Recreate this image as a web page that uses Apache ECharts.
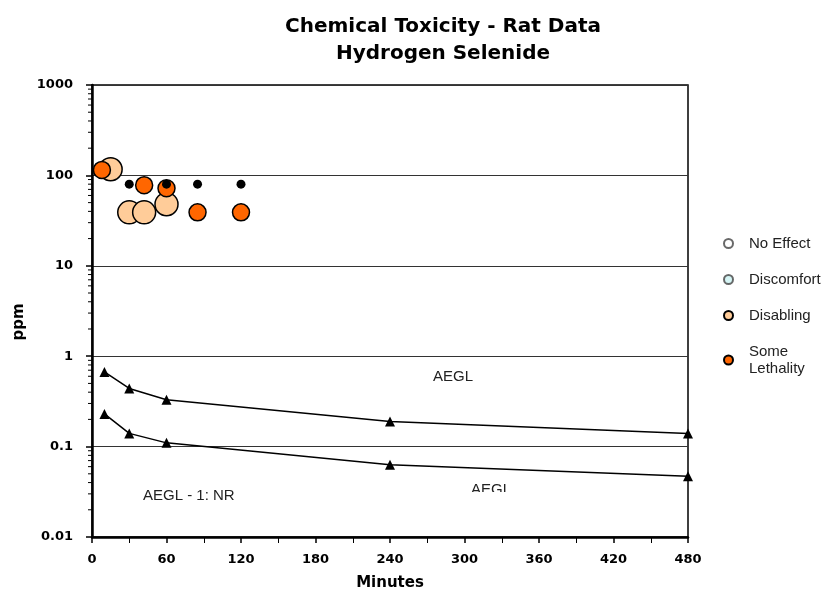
<!DOCTYPE html>
<html>
<head>
<meta charset="utf-8">
<script src="https://cdn.jsdelivr.net/npm/echarts@6/dist/echarts.min.js"></script>
<style>
  html, body { margin: 0; padding: 0; background: #fff; }
  #chart { width: 831px; height: 592px; }
</style>
</head>
<body>
<div id="chart"></div>
<script>
// Rat exposure data, minutes vs ppm
const lethalMinutes = [8, 42, 60, 85, 120];
const lethalPpm = [115, 78, 72, 39, 39];

const disablingMinutes = [15, 30, 42, 60];
const disablingPpm = [117, 39, 39, 48];

const otherMinutes = [30, 60, 85, 120];
const otherPpm = [80, 80, 80, 80];

// AEGL curves
const aeglMinutes = [10, 30, 60, 240, 480];
const aeglUpper = [0.67, 0.44, 0.33, 0.19, 0.14];
const aeglLower = [0.23, 0.14, 0.11, 0.063, 0.047];

const xTicks = [0, 60, 120, 180, 240, 300, 360, 420, 480];
const yTicks = ['0.01', '0.1', '1', '10', '100', '1000'];
const yDecades = [0.01, 0.1, 1, 10, 100];
const yMinorSteps = [2, 3, 4, 5, 6, 7, 8, 9];

const legendNames = ['No Effect', 'Discomfort', 'Disabling', 'Some\nLethality'];

const pair = (xs, ys) => xs.map((x, i) => [x, ys[i]]);

// log-spaced minor tick values for the ppm axis
const yMinorTicks = [];
yDecades.forEach(d => yMinorSteps.forEach(s => yMinorTicks.push([0, +(d * s).toPrecision(3)])));

const boldFont = '"DejaVu Sans", Verdana, sans-serif';
const textFont = 'Arial, "Liberation Sans", sans-serif';

const container = document.getElementById('chart');
const chart = echarts.init(container, null, { renderer: 'canvas', width: 831, height: 592 });

const option = {
  animation: false,
  title: {
    text: 'Chemical Toxicity - Rat Data\nHydrogen Selenide',
    left: 438,
    textAlign: 'center',
    top: 8,
    textStyle: {
      fontFamily: boldFont,
      fontWeight: 'bold',
      fontSize: 20,
      lineHeight: 27,
      color: '#000'
    }
  },
  legend: {
    orient: 'vertical',
    left: 718,
    top: 230,
    itemGap: 19,
    itemWidth: 9,
    itemHeight: 9,
    icon: 'circle',
    data: legendNames,
    textStyle: {
      fontFamily: textFont,
      fontSize: 15,
      color: '#222',
      lineHeight: 17,
      padding: [0, 0, 0, 11]
    },
    selectedMode: false
  },
  grid: {
    left: 92,
    right: 143,
    top: 85,
    bottom: 55,
    outerBoundsMode: 'none',
    containLabel: false,
    show: true,
    borderColor: '#000',
    borderWidth: 1.5
  },
  xAxis: {
    type: 'value',
    min: 0,
    max: 480,
    interval: 60,
    name: 'Minutes',
    nameLocation: 'middle',
    nameGap: 39,
    nameTextStyle: { fontFamily: boldFont, fontWeight: 'bold', fontSize: 15, color: '#000' },
    axisLine: { lineStyle: { color: '#000', width: 2.5 } },
    axisTick: { length: 6, lineStyle: { color: '#000', width: 1.5 } },
    minorTick: { show: true, splitNumber: 2, length: 6, lineStyle: { color: '#000', width: 1 } },
    splitLine: { show: false },
    axisLabel: {
      fontFamily: boldFont,
      fontWeight: 'bold',
      fontSize: 13,
      color: '#000',
      margin: 16,
      formatter: v => xTicks.includes(v) ? String(v) : ''
    }
  },
  yAxis: {
    type: 'log',
    logBase: 10,
    min: 0.01,
    max: 1000,
    axisLine: { show: true, lineStyle: { color: '#000', width: 2.5 } },
    axisTick: { length: 6, lineStyle: { color: '#000', width: 1.5 } },
    minorTick: { show: false },
    splitLine: { show: true, lineStyle: { color: '#333', width: 1 } },
    axisLabel: {
      fontFamily: boldFont,
      fontWeight: 'bold',
      fontSize: 13,
      color: '#000',
      margin: 19,
      formatter: v => {
        const s = String(+v.toPrecision(3));
        return yTicks.includes(s) ? s : '';
      }
    }
  },
  series: [
    {
      name: 'yMinor',
      type: 'custom',
      silent: true,
      data: yMinorTicks,
      renderItem: (params, api) => {
        const p = api.coord([api.value(0), api.value(1)]);
        return {
          type: 'line',
          shape: { x1: p[0] - 4, y1: p[1], x2: p[0], y2: p[1] },
          style: { stroke: '#000', lineWidth: 1 }
        };
      }
    },
    {
      name: 'No Effect',
      type: 'scatter',
      data: [],
      itemStyle: { color: '#fff', borderColor: '#444', borderWidth: 1 }
    },
    {
      name: 'Discomfort',
      type: 'scatter',
      data: [],
      itemStyle: { color: '#ccf2f2', borderColor: '#444', borderWidth: 1 }
    },
    {
      name: 'AEGL upper',
      type: 'line',
      data: pair(aeglMinutes, aeglUpper),
      symbol: 'triangle',
      symbolSize: 10,
      lineStyle: { color: '#000', width: 1.5 },
      itemStyle: { color: '#000' }
    },
    {
      name: 'AEGL lower',
      type: 'line',
      data: pair(aeglMinutes, aeglLower),
      symbol: 'triangle',
      symbolSize: 10,
      lineStyle: { color: '#000', width: 1.5 },
      itemStyle: { color: '#000' }
    },
    {
      name: 'Disabling',
      type: 'scatter',
      data: pair(disablingMinutes, disablingPpm),
      symbolSize: 23,
      itemStyle: { color: '#ffcc99', borderColor: '#000', borderWidth: 1.5, opacity: 1 }
    },
    {
      name: 'Some\nLethality',
      type: 'scatter',
      data: pair(lethalMinutes, lethalPpm),
      symbolSize: 17,
      itemStyle: { color: '#ff6600', borderColor: '#000', borderWidth: 1.5, opacity: 1 }
    },
    {
      name: 'Other',
      type: 'scatter',
      data: pair(otherMinutes, otherPpm),
      symbolSize: 9,
      itemStyle: { color: '#000', opacity: 1 }
    }
  ],
  graphic: [
    {
      type: 'text',
      x: 19,
      y: 322,
      rotation: Math.PI / 2,
      style: {
        text: 'ppm',
        font: 'bold 15px "DejaVu Sans", Verdana, sans-serif',
        fill: '#000',
        align: 'center',
        verticalAlign: 'middle'
      }
    },
    {
      type: 'text',
      left: 433,
      top: 369,
      style: { text: 'AEGL', font: '15px Arial, "Liberation Sans", sans-serif', fill: '#222' }
    },
    {
      type: 'text',
      left: 143,
      top: 488,
      style: { text: 'AEGL - 1: NR', font: '15px Arial, "Liberation Sans", sans-serif', fill: '#222' }
    },
    {
      type: 'text',
      left: 471,
      top: 482,
      z: 50,
      style: { text: 'AEGL', font: '15px Arial, "Liberation Sans", sans-serif', fill: '#222' }
    },
    {
      // the second AEGL label is cut off at its base in the original
      type: 'rect',
      x: 466,
      y: 492,
      z: 100,
      shape: { width: 48, height: 14 },
      style: { fill: '#fff' }
    }
  ]
};

chart.setOption(option);
</script>
</body>
</html>
